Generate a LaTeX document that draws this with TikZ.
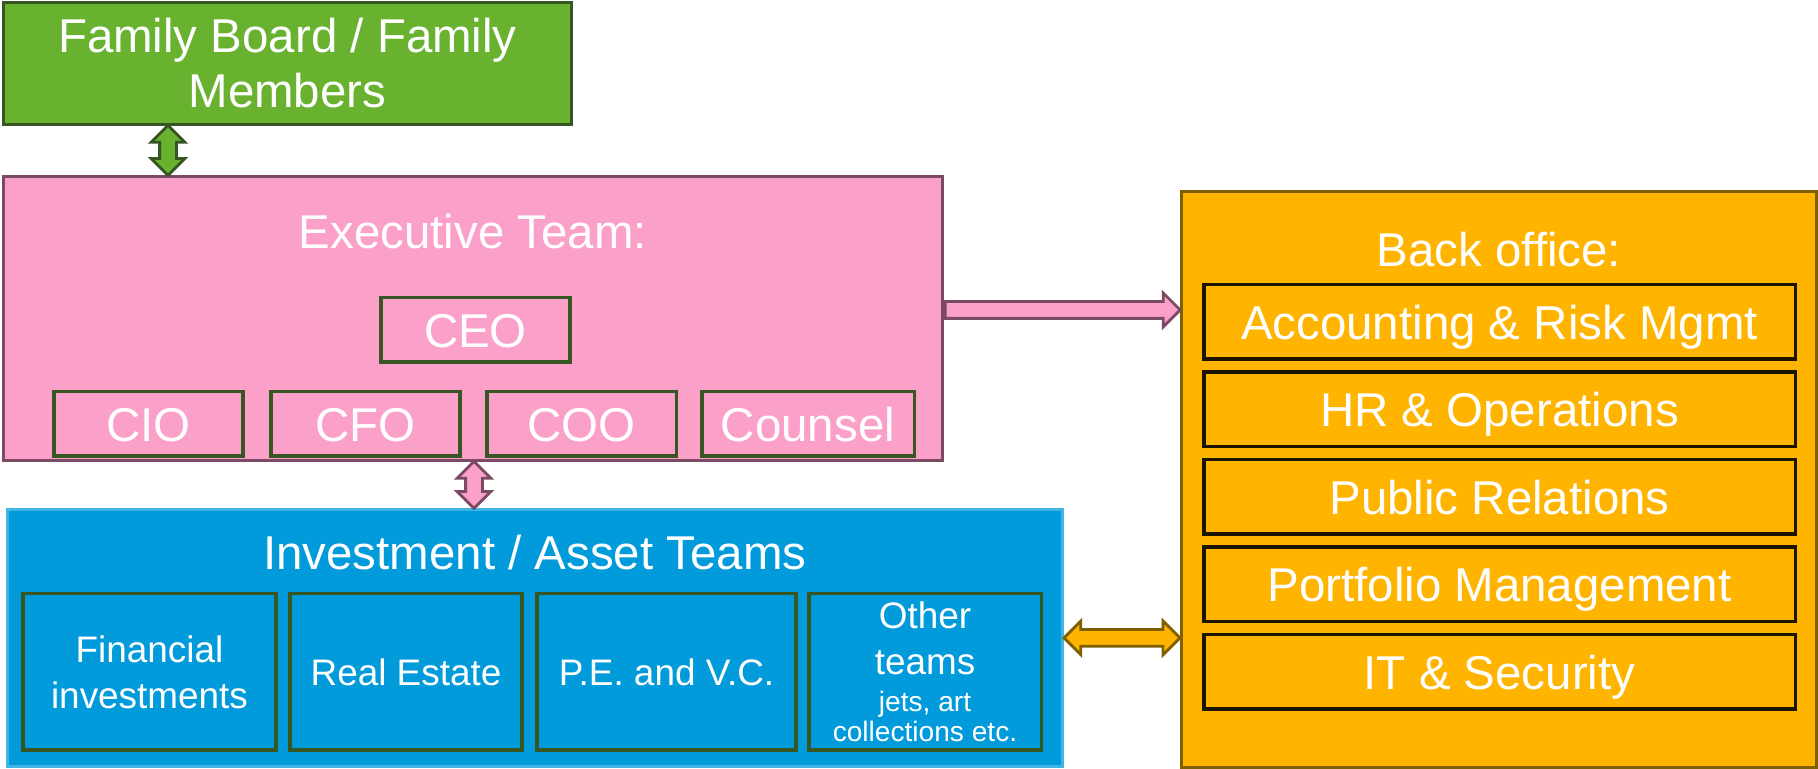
\documentclass[tikz,border=0pt]{standalone}
\usepackage{fontspec}
\setmainfont{Liberation Sans}
\usepackage{tikz}
\usetikzlibrary{shapes.arrows,positioning,calc}
\definecolor{fb}{HTML}{68B22F}
\definecolor{fbd}{HTML}{375623}
\definecolor{ex}{HTML}{FBA0C9}
\definecolor{exd}{HTML}{7B4A63}
\definecolor{iv}{HTML}{019BDB}
\definecolor{ivd}{HTML}{41B4E6}
\definecolor{bo}{HTML}{FFB400}
\definecolor{bod}{HTML}{7F6000}
\definecolor{bk}{HTML}{1A1400}
\newcommand{\Lg}{\fontsize{13.5}{15.6}\selectfont}
\newcommand{\Md}{\fontsize{10.5}{13}\selectfont}
\newcommand{\Sm}{\fontsize{8}{8.8}\selectfont}
\tikzset{
  panel/.style={draw, line width=0.8pt, anchor=north west, inner sep=0pt},
  title/.style={text=white, font=\Lg, inner sep=0pt},
  role/.style={draw=fbd, line width=1pt, anchor=north west, inner sep=0pt, outer sep=0pt,
    text=white, font=\Lg, text height=9.7pt, text depth=0pt, minimum height=0.645cm},
  team/.style={draw=fbd, line width=1pt, anchor=north west, inner sep=0pt, outer sep=0pt,
    text=white, font=\Md, align=center, minimum width=2.325cm, minimum height=1.565cm},
  duty/.style={draw=bk, line width=1pt, anchor=north west, inner sep=0pt, outer sep=0pt,
    text=white, font=\Lg, text height=9.7pt, text depth=0pt,
    minimum width=5.915cm, minimum height=0.745cm},
  link/.style={draw, line width=0.8pt, inner xsep=0pt, inner ysep=0.07cm},
  onelink/.style={link, single arrow, single arrow head extend=0.085cm},
  twolink/.style={link, double arrow, double arrow head extend=0.085cm},
}

\begin{document}
\begin{tikzpicture}
  \useasboundingbox (0,0) rectangle (18.18,-7.69);

  \node[panel, draw=fbd, fill=fb, minimum width=5.68cm, minimum height=1.22cm,
    text=white, font=\Lg, align=center] (board) at (0.02,-0.01) {Family Board / Family\\Members};

  % executive team
  \node[panel, draw=exd, fill=ex, minimum width=9.39cm, minimum height=2.84cm] (exec) at (0.02,-1.75) {};
  \node[title] (exectitle) at ($(exec.north)+(0,-0.57)$) {Executive Team:};
  \node[role, minimum width=1.895cm] (ceo) at (3.8075,-2.9775) {CEO};
  \node[role, minimum width=1.895cm] (cio) at (0.5375,-3.9175) {CIO};
  \node[role, minimum width=1.895cm, right=0.275cm of cio] (cfo) {CFO};
  \node[role, minimum width=1.895cm, right=0.265cm of cfo] (coo) {COO};
  \node[role, minimum width=2.125cm, right=0.255cm of coo] (counsel) {Counsel};

  % investment teams
  \node[panel, draw=ivd, fill=iv, minimum width=10.55cm, minimum height=2.57cm] (invest) at (0.06,-5.08) {};
  \node[title] (investtitle) at ($(invest.north)+(0,-0.45)$) {Investment / Asset Teams};
  \node[team, minimum width=2.535cm] (fin) at (0.2275,-5.9375) {Financial\\investments};
  \node[team, right=0.135cm of fin] (estate) {Real Estate};
  \node[team, minimum width=2.595cm, right=0.145cm of estate] (pevc) {P.E. and V.C.};
  \node[team, right=0.125cm of pevc] (other) {Other\\teams\\[-2.5pt]{\Sm jets, art}\\[-4.2pt]{\Sm collections etc.}};

  % back office
  \node[panel, draw=bod, fill=bo, minimum width=6.35cm, minimum height=5.76cm] (back) at (11.80,-1.90) {};
  \node[title] (backtitle) at ($(back.north)+(0,-0.60)$) {Back office:};
  \node[duty] (acc) at (12.0375,-2.8475) {Accounting \& Risk Mgmt};
  \node[duty, below=0.13cm of acc] (hr) {HR \& Operations};
  \node[duty, below=0.13cm of hr] (pr) {Public Relations};
  \node[duty, below=0.13cm of pr] (pm) {Portfolio Management};
  \node[duty, below=0.13cm of pm] (it) {IT \& Security};

  % block arrows between the panels
  \node[twolink, fill=fb, draw=fbd, rotate=90, minimum height=0.50cm] (famlink)
    at ($(board.south west)!0.5!(exec.north west)+(1.66,0)$) {};
  \node[twolink, fill=ex, draw=exd, rotate=90, minimum height=0.47cm] (execlink)
    at ($(exec.south west)!0.5!(invest.north west)+(4.70,0)$) {};
  \node[onelink, fill=ex, draw=exd, anchor=tail, minimum height=2.35cm] (backlink)
    at ($(exec.north east)+(0,-1.35)$) {};
  \node[twolink, fill=bo, draw=bod, minimum height=1.16cm] (investlink)
    at ($(invest.east)!0.5!(invest.east -| back.west)$) {};
\end{tikzpicture}
\end{document}
